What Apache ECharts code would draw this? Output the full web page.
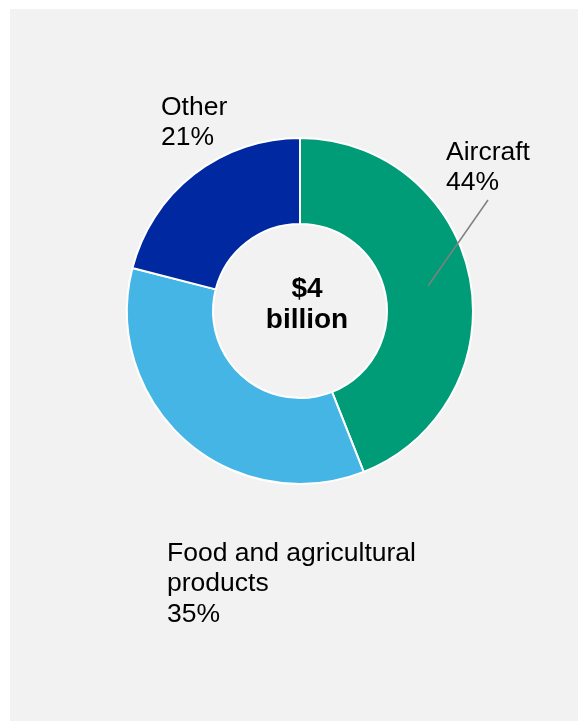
<!DOCTYPE html>
<html>
<head>
<meta charset="utf-8">
<script src="https://cdn.jsdelivr.net/npm/echarts@6/dist/echarts.min.js"></script>
<style>
  html, body { margin: 0; padding: 0; background: #ffffff; }
  #chart { width: 578px; height: 721px; }
</style>
</head>
<body>
<div id="chart"></div>
<script>
// Export composition, shares in percent, clockwise from 12 o'clock
const categories = ['Aircraft', 'Food and agricultural\nproducts', 'Other'];
const shares = [44, 35, 21];
const sliceColors = ['#009b77', '#45b5e6', '#0028a0'];
const centerLines = ['$4', 'billion'];

const FONT = '"Liberation Sans", Arial, sans-serif';

// Where each slice label sits (top-left corner of the text block)
const labelSpots = [
  { x: 446, y: 137 },
  { x: 167, y: 538 },
  { x: 161, y: 92 }
];

const chart = echarts.init(document.getElementById('chart'), null, { renderer: 'canvas' });

const data = categories.map((name, i) => ({
  name: name,
  value: shares[i],
  itemStyle: { color: sliceColors[i] }
}));

chart.setOption({
  animation: false,
  backgroundColor: '#ffffff',
  graphic: [
    {
      type: 'rect',
      z: -10,
      silent: true,
      shape: { x: 10, y: 9, width: 568, height: 712 },
      style: { fill: '#f2f2f2' }
    },
    {
      // leader from the Aircraft slice up to its label
      type: 'line',
      z: 10,
      silent: true,
      shape: { x1: 428, y1: 286, x2: 488, y2: 200 },
      style: { stroke: '#808080', lineWidth: 1.5 }
    },
    {
      type: 'text',
      z: 10,
      silent: true,
      x: 307,
      y: 305,
      style: {
        text: centerLines.join('\n'),
        font: 'bold 28px ' + FONT,
        fill: '#000000',
        align: 'center',
        verticalAlign: 'middle',
        lineHeight: 31
      }
    }
  ],
  series: [
    {
      type: 'pie',
      center: [300, 311],
      radius: [87, 173],
      startAngle: 90,
      clockwise: true,
      avoidLabelOverlap: false,
      itemStyle: { borderColor: '#ffffff', borderWidth: 2 },
      emphasis: { disabled: true },
      label: {
        show: true,
        position: 'outside',
        formatter: '{b}\n{d}%',
        color: '#000000',
        fontSize: 26.5,
        lineHeight: 30.5,
        fontFamily: FONT
      },
      labelLine: { show: false },
      labelLayout: function (params) {
        const spot = labelSpots[params.dataIndex];
        return { x: spot.x, y: spot.y, align: 'left', verticalAlign: 'top' };
      },
      data: data
    }
  ]
});
</script>
</body>
</html>
